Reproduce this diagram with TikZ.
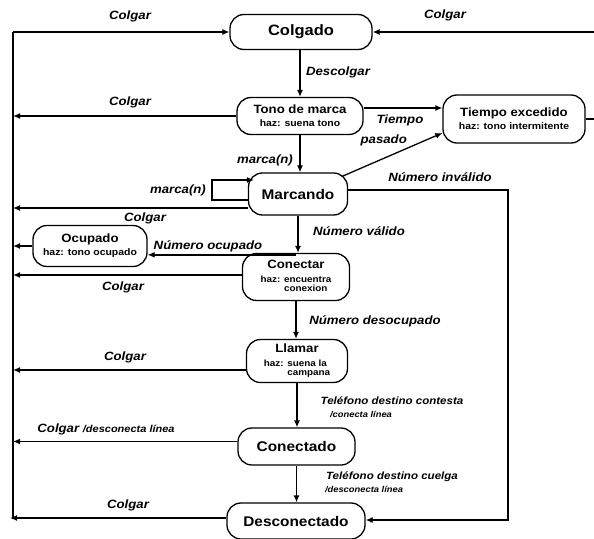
\documentclass[tikz,border=0pt]{standalone}
\usepackage{fontspec}
\setmainfont{Liberation Sans}[FakeStretch=1.1]
\usetikzlibrary{arrows.meta}
\begin{document}
\begin{tikzpicture}[x=1pt,y=-1pt,
  state/.style={draw, line width=1.3pt, rounded corners=14pt, align=center,
    inner sep=0pt, font=\bfseries\fontsize{12}{14}\selectfont},
  big/.style={font=\bfseries\fontsize{14}{16}\selectfont},
  arr/.style={line width=1.3pt, -{Latex[length=7pt,width=6pt]}},
  wire/.style={line width=1.3pt},
  lab/.style={inner sep=0pt, font=\bfseries\itshape\fontsize{12}{13}\selectfont},
  small/.style={inner sep=0pt, font=\bfseries\itshape\fontsize{8.5}{9}\selectfont},
]
\newcommand\hazline[1]{\\[-1pt]{\fontsize{9.5}{10}\selectfont #1}}
\newcommand\haztwo[2]{\\{\fontsize{9}{9}\selectfont
   \begin{tabular}[t]{@{}r@{ }l@{}}haz:&#1\\&#2\end{tabular}}}
\useasboundingbox (0,0) rectangle (594,538);

% states
\node[state, font=\bfseries\fontsize{15}{17}\selectfont, minimum width=142pt, minimum height=35pt] (colg) at (301,32) {Colgado};
\node[state, minimum width=126pt, minimum height=37pt] (tono) at (300,116)
  {Tono de marca\hazline{haz: suena tono}};
\node[state, minimum width=142pt, minimum height=48pt] (tiem) at (514,119)
  {Tiempo excedido\hazline{haz: tono intermitente}};
\node[state, big, minimum width=99pt, minimum height=42pt] (marc) at (298,194) {Marcando};
\node[state, minimum width=114pt, minimum height=41pt] (ocu) at (90,246)
  {Ocupado\hazline{haz: tono ocupado}};
\node[state, minimum width=107pt, minimum height=47pt] (con) at (296,277)
  {Conectar\haztwo{encuentra}{conexion}};
\node[state, minimum width=101pt, minimum height=43pt] (lla) at (297,361)
  {Llamar\haztwo{suena la}{campana}};
\node[state, big, minimum width=117pt, minimum height=37pt] (cdo) at (296.5,446.5) {Conectado};
\node[state, big, minimum width=138pt, minimum height=36pt] (desc) at (296,521) {Desconectado};

% return bus on the left and loop on the right
\coordinate (bT) at (13,32);
\coordinate (bB) at (13,518);
\coordinate (rT) at (598,32);
\coordinate (rB) at (598,119);
\coordinate (nvB) at (508,520);
\coordinate (lp) at (212,180);

\draw[wire] (bB) -- (bT);
\draw[arr] (bT) -- (colg.west);
\draw[arr] (tiem.east) -- (rB) -- (rT) -- (colg.east);

% hang-up transitions into the bus
\draw[arr] (tono.west) -- (tono.west -| bT);
\draw[arr] ([yshift=-14pt]marc.west) -- ([yshift=-14pt]marc.west -| bT);
\draw[arr] (ocu.west) -- (ocu.west -| bT);
\draw[arr] ([yshift=2pt]con.west) -- ([yshift=2pt]con.west -| bT);
\draw[arr] ([yshift=-9pt]lla.west) -- ([yshift=-9pt]lla.west -| bT);
\draw[arr] ([yshift=5pt]cdo.west) -- ([yshift=5pt]cdo.west -| bT);
\draw[arr] ([yshift=3pt]desc.west) -- ([yshift=3pt,xshift=-3pt]desc.west -| bT);

% main sequence
\draw[arr] (colg.south -| tono.north) -- (tono.north);
\draw[arr] (tono.south) -- (tono.south |- marc.north);
\draw[arr] (marc.south) -- (marc.south |- con.north);
\draw[arr] (con.south) -- (con.south |- lla.north);
\draw[arr] (lla.south) -- (lla.south |- cdo.north);
\draw[arr] (cdo.south) -- (cdo.south |- desc.north);

% timeouts
\draw[arr] ([yshift=8pt]tono.east) -- ([yshift=8pt]tono.east -| tiem.west);
\draw[arr] ([xshift=-6pt,yshift=-4pt]marc.north east) -- ([yshift=-14pt]tiem.west);

% dialing loop
\draw[arr] ([yshift=-6pt]marc.west) -| (lp) -- ([xshift=6pt,yshift=14pt]marc.west);

% invalid number
\draw[arr] ([yshift=4pt]marc.east) -| (nvB) -- (nvB -| desc.east);

% busy number
\draw[arr] ([yshift=-2pt]con.north) -- ([yshift=-2pt]con.north -| ocu.east);

% labels
\node[lab] (l1) at (130,16) {Colgar};
\node[lab] (l2) at (445,15) {Colgar};
\node[lab] (l3) at (338,72) {Descolgar};
\node[lab] (l4) at (130,102) {Colgar};
\node[lab, align=left, font=\bfseries\itshape\fontsize{12}{20}\selectfont] (l5) at (392,130) {\hspace*{16pt}Tiempo\\pasado};
\node[lab] (l6) at (265,160) {marca(n)};
\node[lab] (l7) at (178,190) {marca(n)};
\node[lab] (l8) at (440,177) {Número inválido};
\node[lab] (l9) at (145,218) {Colgar};
\node[lab] (l10) at (359,231) {Número válido};
\node[lab] (l11) at (208,246) {Número ocupado};
\node[lab] (l12) at (123,287) {Colgar};
\node[lab] (l13) at (375,321) {Número desocupado};
\node[lab] (l14) at (125,357) {Colgar};
\node[lab, font=\bfseries\itshape\fontsize{10.5}{11}\selectfont] (l15) at (392,401) {Teléfono destino contesta};
\node[small] (l16) at (361,414) {/conecta línea};
\node[lab] (l17) at (106,429) {Colgar {\fontsize{10}{10}\selectfont/desconecta línea}};
\node[lab, font=\bfseries\itshape\fontsize{10.5}{11}\selectfont] (l18) at (392,477) {Teléfono destino cuelga};
\node[small] (l19) at (364,489) {/desconecta línea};
\node[lab] (l20) at (128,505) {Colgar};
\end{tikzpicture}
\end{document}
